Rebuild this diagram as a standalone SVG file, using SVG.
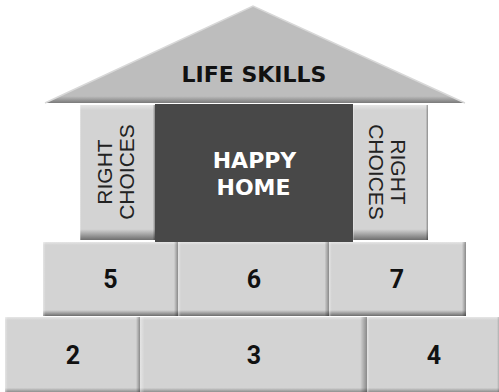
<svg xmlns="http://www.w3.org/2000/svg" width="499" height="392" viewBox="0 0 499 392">
<defs>
<linearGradient id="gb" x1="0" y1="0" x2="0" y2="1">
<stop offset="0" stop-color="#e6e6e6"/><stop offset="0.04" stop-color="#d3d3d3"/><stop offset="0.92" stop-color="#d3d3d3"/><stop offset="1" stop-color="#6e6e6e"/>
</linearGradient>
<linearGradient id="gr" x1="0" y1="0" x2="1" y2="0">
<stop offset="0" stop-color="#ffffff" stop-opacity="0.4"/><stop offset="0.02" stop-color="#ffffff" stop-opacity="0"/><stop offset="0.97" stop-color="#000" stop-opacity="0"/><stop offset="1" stop-color="#000" stop-opacity="0.35"/>
</linearGradient>
<linearGradient id="roof" x1="0" y1="0" x2="0" y2="1">
<stop offset="0" stop-color="#bdbdbd"/><stop offset="0.93" stop-color="#bdbdbd"/><stop offset="1" stop-color="#7a7a7a"/>
</linearGradient>
</defs>
<style>
.blk{fill:url(#gb)}
.sh{fill:url(#gr)}
.num{font-family:Roboto,"Liberation Sans",sans-serif;font-weight:bold;font-size:25px;fill:#111;text-anchor:middle}
.rc{font-family:"Liberation Sans",Arial,sans-serif;font-size:21px;fill:#222;text-anchor:middle}
.big{font-family:"DejaVu Sans",sans-serif;font-weight:bold;font-size:22px;text-anchor:middle}
</style>
<g id="roof-node">
<polygon points="253,6 465,103 45,103" fill="url(#roof)"/>
<polyline points="45,103 253,6 465,103" fill="none" stroke="#d8d8d8" stroke-width="1.5"/>
<text class="big" x="254" y="82" fill="#111">LIFE SKILLS</text>
</g>
<g id="left-pillar">
<rect class="blk" x="80" y="105" width="75" height="135"/>
<rect class="sh" x="80" y="105" width="75" height="135"/>
<text class="rc" transform="translate(112,172) rotate(-90)"><tspan x="0" y="0">RIGHT</tspan><tspan x="0" y="22">CHOICES</tspan></text>
</g>
<g id="happy-home">
<rect x="155" y="104" width="198" height="138" fill="#484848"/>
<text class="big" y="168" fill="#fff"><tspan x="254.5">HAPPY</tspan><tspan x="253.5" y="195">HOME</tspan></text>
</g>
<g id="right-pillar">
<rect class="blk" x="353" y="105" width="75" height="135"/>
<rect class="sh" x="353" y="105" width="75" height="135"/>
<text class="rc" transform="translate(391,172) rotate(90)"><tspan x="0" y="0">RIGHT</tspan><tspan x="0" y="22">CHOICES</tspan></text>
</g>
<g id="b5"><rect class="blk" x="43" y="242" width="135" height="74"/><rect class="sh" x="43" y="242" width="135" height="74"/><text class="num" x="110.5" y="288">5</text></g>
<g id="b6"><rect class="blk" x="178" y="242" width="151" height="74"/><rect class="sh" x="178" y="242" width="151" height="74"/><text class="num" x="254" y="288">6</text></g>
<g id="b7"><rect class="blk" x="329" y="242" width="137" height="74"/><rect class="sh" x="329" y="242" width="137" height="74"/><text class="num" x="397" y="288">7</text></g>
<g id="b2"><rect class="blk" x="5" y="317" width="135" height="77"/><rect class="sh" x="5" y="317" width="135" height="77"/><text class="num" x="73" y="364">2</text></g>
<g id="b3"><rect class="blk" x="140" y="317" width="227" height="77"/><rect class="sh" x="140" y="317" width="227" height="77"/><text class="num" x="254" y="364">3</text></g>
<g id="b4"><rect class="blk" x="367" y="317" width="134" height="77"/><rect class="sh" x="367" y="317" width="134" height="77"/><text class="num" x="434" y="364">4</text></g>
<g id="connectors"/>
</svg>
